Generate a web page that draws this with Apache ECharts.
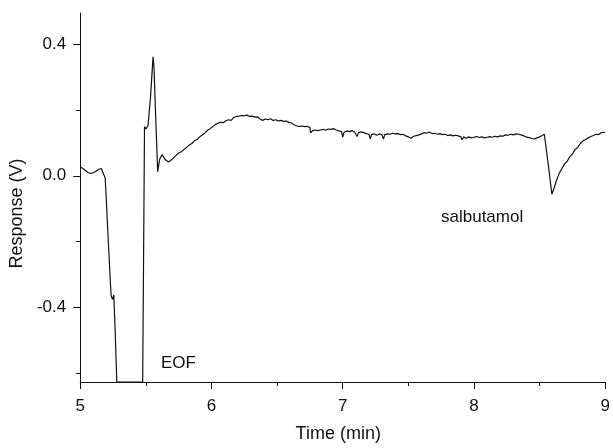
<!DOCTYPE html>
<html>
<head>
<meta charset="utf-8">
<script src="https://cdn.jsdelivr.net/npm/echarts@6/dist/echarts.min.js"></script>
<style>
html,body{margin:0;padding:0;background:#fff;}
#chart{width:613px;height:448px;}
</style>
</head>
<body>
<div id="chart"></div>
<script>
// Time (min)
const times = [
  5.00, 5.02, 5.04, 5.06, 5.08, 5.10, 5.12, 5.14, 5.16, 5.175, 5.19, 5.20, 5.21, 5.22, 5.23, 5.236, 5.246, 5.256, 5.266, 5.279,
  5.30, 5.35, 5.40, 5.45, 5.476,
  5.49, 5.502, 5.517, 5.535, 5.555, 5.562, 5.573, 5.59, 5.605, 5.623, 5.648, 5.673, 5.698, 5.72,
  5.75, 5.77, 5.79, 5.81, 5.83, 5.85, 5.87, 5.89, 5.91, 5.93, 5.95, 5.97, 5.99, 6.01, 6.03, 6.04, 6.05, 6.07, 6.09,
  6.11, 6.13, 6.15, 6.17, 6.19, 6.21, 6.23, 6.25, 6.27, 6.29, 6.31, 6.33, 6.35, 6.37, 6.39, 6.41, 6.43, 6.45, 6.47, 6.49,
  6.51, 6.53, 6.55, 6.57, 6.59, 6.61, 6.63, 6.65, 6.67, 6.69, 6.71, 6.73, 6.75, 6.755, 6.77, 6.79, 6.81, 6.83, 6.85, 6.87,
  6.89, 6.91, 6.93, 6.95, 6.97, 6.99, 7.00, 7.01, 7.03, 7.05, 7.07, 7.09, 7.11, 7.12, 7.14, 7.16, 7.18, 7.20, 7.21, 7.22,
  7.24, 7.26, 7.28, 7.30, 7.31, 7.32, 7.34, 7.36, 7.38, 7.40, 7.42, 7.44, 7.46, 7.48, 7.50, 7.52, 7.54, 7.56, 7.58, 7.60,
  7.62, 7.64, 7.66, 7.68, 7.70, 7.72, 7.74, 7.76, 7.78, 7.80, 7.82, 7.84, 7.86, 7.88, 7.90, 7.91, 7.92, 7.94, 7.96, 7.98,
  8.00, 8.02, 8.04, 8.06, 8.08, 8.10, 8.12, 8.14, 8.16, 8.18, 8.20, 8.22, 8.24, 8.26, 8.28, 8.30, 8.32, 8.34, 8.36, 8.38,
  8.40, 8.42, 8.44, 8.46, 8.48, 8.50, 8.52, 8.536, 8.545, 8.57, 8.593, 8.61, 8.63, 8.65, 8.67, 8.69, 8.71, 8.73, 8.75, 8.77,
  8.79, 8.81, 8.83, 8.85, 8.87, 8.89, 8.91, 8.93, 8.95, 8.97, 8.98, 9.00
];
// Response (V)
const response = [
  0.027, 0.022, 0.016, 0.010, 0.007, 0.009, 0.014, 0.019, 0.022, 0.019, -0.006, -0.080, -0.166, -0.245, -0.325, -0.365, -0.375, -0.362, -0.465, -0.626,
  -0.626, -0.626, -0.626, -0.626, -0.626,
  0.149, 0.142, 0.154, 0.234, 0.361, 0.330, 0.204, 0.012, 0.049, 0.064, 0.049, 0.042, 0.049, 0.058,
  0.069, 0.073, 0.080, 0.086, 0.093, 0.098, 0.106, 0.110, 0.118, 0.124, 0.130, 0.138, 0.143, 0.149, 0.156, 0.150, 0.159, 0.163, 0.161,
  0.167, 0.170, 0.168, 0.177, 0.180, 0.181, 0.183, 0.182, 0.184, 0.180, 0.181, 0.178, 0.179, 0.172, 0.168, 0.172, 0.170, 0.173, 0.168, 0.170,
  0.166, 0.168, 0.165, 0.166, 0.162, 0.160, 0.155, 0.151, 0.150, 0.151, 0.149, 0.150, 0.146, 0.130, 0.137, 0.139, 0.137, 0.139, 0.141, 0.138,
  0.142, 0.141, 0.143, 0.139, 0.136, 0.134, 0.117, 0.132, 0.136, 0.134, 0.137, 0.133, 0.119, 0.131, 0.133, 0.131, 0.128, 0.126, 0.112, 0.126,
  0.127, 0.123, 0.127, 0.124, 0.111, 0.125, 0.127, 0.126, 0.129, 0.127, 0.128, 0.125, 0.126, 0.121, 0.118, 0.114, 0.120, 0.122, 0.124, 0.127,
  0.131, 0.129, 0.133, 0.128, 0.129, 0.126, 0.128, 0.125, 0.126, 0.122, 0.124, 0.121, 0.123, 0.121, 0.118, 0.109, 0.118, 0.114, 0.118, 0.115,
  0.117, 0.119, 0.116, 0.118, 0.115, 0.117, 0.119, 0.117, 0.120, 0.118, 0.121, 0.120, 0.124, 0.123, 0.126, 0.124, 0.127, 0.126, 0.124, 0.121,
  0.117, 0.116, 0.113, 0.112, 0.115, 0.118, 0.122, 0.126, 0.120, 0.020, -0.056, -0.037, -0.012, 0.008, 0.022, 0.036, 0.044, 0.058, 0.066, 0.080,
  0.086, 0.098, 0.106, 0.110, 0.115, 0.119, 0.122, 0.126, 0.125, 0.131, 0.127, 0.132
];
const yTickValues = [-0.4, 0.0, 0.4];
const yMinorTickValues = [-0.6, -0.2, 0.2];
const annotations = ['EOF', 'salbutamol'];

const chart = echarts.init(document.getElementById('chart'), null, {renderer: 'canvas'});
const FONT = 'Liberation Sans, Arial, sans-serif';
const points = times.map((t, i) => [t, response[i]]);
const yCommon = {
  type: 'value', min: -0.626, max: 0.494, position: 'left', splitLine: {show: false}
};
chart.setOption({
  animation: false,
  backgroundColor: '#fff',
  grid: {left: 77, right: 5, top: 13, bottom: 61, containLabel: false},
  xAxis: {
    type: 'value', min: 5, max: 9, interval: 1, position: 'bottom',
    name: 'Time (min)', nameLocation: 'middle', nameGap: 43,
    nameTextStyle: {fontSize: 18, color: '#111', fontFamily: FONT, padding: [0, 9, 0, 0]},
    axisLine: {show: true, onZero: false, lineStyle: {color: '#111', width: 1}},
    axisTick: {show: true, inside: false, length: 7, lineStyle: {color: '#111', width: 1}},
    minorTick: {show: true, splitNumber: 2, length: 4, lineStyle: {color: '#111', width: 1}},
    axisLabel: {fontSize: 17, color: '#111', fontFamily: FONT, margin: 16},
    splitLine: {show: false}
  },
  yAxis: [
    Object.assign({}, yCommon, {
      name: 'Response (V)', nameLocation: 'middle', nameGap: 48,
      nameTextStyle: {fontSize: 18, color: '#111', fontFamily: FONT, padding: [0, 32, 0, 0]},
      axisLine: {show: true, onZero: false, lineStyle: {color: '#111', width: 1}},
      axisTick: {show: true, inside: false, length: 7, customValues: yTickValues, lineStyle: {color: '#111', width: 1}},
      axisLabel: {show: true, customValues: yTickValues, fontSize: 17, color: '#111', fontFamily: FONT, margin: 14,
        formatter: v => v.toFixed(1)}
    }),
    Object.assign({}, yCommon, {
      axisLine: {show: false, onZero: false},
      axisTick: {show: true, inside: false, length: 4, customValues: yMinorTickValues, lineStyle: {color: '#111', width: 1}},
      axisLabel: {show: false}
    })
  ],
  graphic: [
    {type: 'text', left: 161, top: 355, style: {text: annotations[0], fontSize: 17, fill: '#111', fontFamily: FONT}},
    {type: 'text', left: 441, top: 209, style: {text: annotations[1], fontSize: 17, fill: '#111', fontFamily: FONT}}
  ],
  series: [{
    type: 'line', xAxisIndex: 0, yAxisIndex: 0, data: points,
    showSymbol: false, smooth: false, clip: true,
    lineStyle: {color: '#111', width: 1.2}
  }]
});
</script>
</body>
</html>
